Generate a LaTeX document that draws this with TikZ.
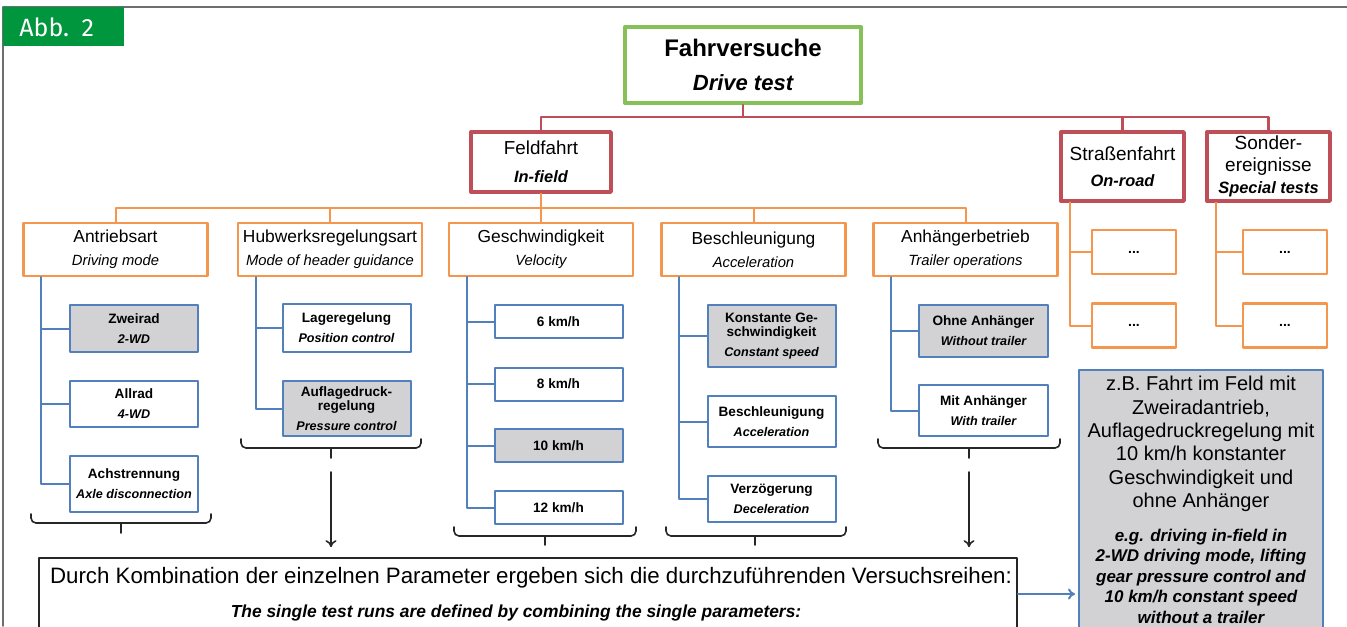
\documentclass[tikz,border=0pt]{standalone}
\usepackage{fontspec}
\setmainfont{Liberation Sans}
\newfontfamily\tagfont{Fira Sans}
\usetikzlibrary{positioning,arrows.meta}
\definecolor{tagGreen}{RGB}{0,150,62}
\definecolor{topGreen}{RGB}{134,192,88}
\definecolor{fieldRed}{RGB}{190,78,88}
\definecolor{catOrange}{RGB}{245,150,78}
\definecolor{optBlue}{RGB}{82,128,188}
\definecolor{optGray}{RGB}{210,210,212}
\definecolor{frameGray}{RGB}{110,110,110}
\newcommand\catsub{\fontsize{7.4}{11.5}\selectfont\itshape}
\newcommand\optsub{\fontsize{6.3}{7.2}\selectfont\bfseries\itshape}
\newcommand\fieldsub{\fontsize{8.2}{13}\selectfont\bfseries\itshape}
\begin{document}
\begin{tikzpicture}[line cap=round,line join=round,>={To[length=3.5pt,width=5.5pt]},x=0.5pt,y=-0.5pt,
	drivebox/.style={draw=topGreen,line width=2pt,minimum width=118pt,minimum height=38pt,align=center,inner sep=0pt,font=\fontsize{11}{17}\selectfont},
	fieldbox/.style={draw=fieldRed,line width=1.7pt,align=center,inner sep=0pt},
	catbox/.style={draw=catOrange,line width=1.3pt,minimum width=92pt,minimum height=26.5pt,align=center,inner sep=0pt,font=\fontsize{8.7}{11.5}\selectfont},
	optbox/.style={draw=optBlue,line width=1pt,minimum width=64pt,align=center,inner sep=0pt,font=\fontsize{6.8}{7.2}\selectfont\bfseries},
	selbox/.style={optbox,fill=optGray},
	dotbox/.style={draw=catOrange,line width=1.3pt,minimum width=42pt,minimum height=22pt,inner sep=0pt,font=\fontsize{7}{8}\selectfont\bfseries},
	redlink/.style={draw=fieldRed,line width=1.1pt},
	orangelink/.style={draw=catOrange,line width=1pt},
	bluelink/.style={draw=optBlue,line width=1pt},
	bracket/.style={draw=black!85,line width=0.8pt,rounded corners=2.5pt},
	arrowlink/.style={draw=black!85,line width=0.8pt,->,shorten >=5pt}]
	\useasboundingbox (0,0) rectangle (1347,626);
	\clip (0,0) rectangle (1347,626);
	% frame and tag
	\draw[frameGray,line width=0.8pt] (3,626) -- (3,7) -- (1347,7);
	\node[fill=tagGreen,text=white,anchor=north west,inner xsep=8pt,inner ysep=0pt,text width=44.5pt,minimum height=19.5pt,align=left,font=\tagfont\fontsize{12.5}{14}\selectfont] (abb) at (3,7) {Abb. 2};
	% top levels
	\node[drivebox] (drive) at (743,65) {{\fontsize{12}{17}\selectfont\bfseries Fahrversuche}\\{\bfseries\itshape Drive test}};
	\node[fieldbox,minimum width=70pt,minimum height=30pt,font=\fontsize{9.4}{14}\selectfont] (feld) at (541,162) {Feldfahrt\\{\fieldsub In-field}};
	\node[fieldbox,minimum width=61.5pt,minimum height=34.5pt,font=\fontsize{9.5}{13}\selectfont] (strasse) at (1122.5,166.5) {Straßenfahrt\\{\fieldsub On-road}};
	\node[fieldbox,minimum width=61.5pt,minimum height=34.5pt,font=\fontsize{9.5}{11}\selectfont] (sonder) at (1268.5,166.5) {Sonder-\\ereignisse\\{\fieldsub Special tests}};
	\coordinate (rbus) at (743,117);
	\draw[redlink] (drive.south) -- (rbus);
	\draw[redlink] (feld.north) |- (rbus) -| (sonder.north);
	\draw[redlink] (strasse.north) -- (strasse.north |- rbus);
	% parameters
	\node[catbox] (antrieb) at (115.5,249.5) {Antriebsart\\{\catsub Driving mode}};
	\node[catbox] (hubwerk) at (330,249.5) {Hubwerksregelungsart\\{\catsub Mode of header guidance}};
	\node[catbox] (geschw) at (541,249.5) {Geschwindigkeit\\{\catsub Velocity}};
	\node[catbox] (beschl) at (753.5,249.5) {Beschleunigung\\{\catsub Acceleration}};
	\node[catbox] (anhang) at (965.5,249.5) {Anhängerbetrieb\\{\catsub Trailer operations}};
	\coordinate (obus) at (541,208);
	\draw[orangelink] (feld.south) -- (geschw.north);
	\draw[orangelink] (antrieb.north) |- (obus) -| (anhang.north);
	\draw[orangelink] (hubwerk.north) -- (hubwerk.north |- obus);
	\draw[orangelink] (beschl.north) -- (beschl.north |- obus);
	\node[dotbox] (sdots1) at (1134,252) {...};
	\node[dotbox] (sdots2) at (1134,325.5) {...};
	\node[dotbox] (odots1) at (1285,252) {...};
	\node[dotbox] (odots2) at (1285,325.5) {...};
	\draw[orangelink] ([xshift=5.5pt]strasse.south west) |- (sdots1.west);
	\draw[orangelink] ([xshift=5.5pt]strasse.south west) |- (sdots2.west);
	\draw[orangelink] ([xshift=5.5pt]sonder.south west) |- (odots1.west);
	\draw[orangelink] ([xshift=5.5pt]sonder.south west) |- (odots2.west);
	% options
	\node[selbox,minimum height=23.5pt] (zweirad) at (134,328.5) {Zweirad\\[2.8pt]{\optsub 2-WD}};
	\node[optbox,minimum height=23pt] (allrad) at (134,404) {Allrad\\[2.8pt]{\optsub 4-WD}};
	\node[optbox,minimum height=28pt] (achs) at (134,484) {Achstrennung\\[2.8pt]{\optsub Axle disconnection}};
	\node[optbox,minimum height=24pt] (lage) at (346.5,328) {Lageregelung\\[2.8pt]{\optsub Position control}};
	\node[selbox,minimum height=27.5pt] (auflage) at (346.5,408.5) {Auflagedruck-\\regelung\\[2.8pt]{\optsub Pressure control}};
	\node[optbox,minimum height=16.5pt] (kmh6) at (558.5,321.5) {6 km/h};
	\node[optbox,minimum height=16.5pt] (kmh8) at (558.5,384) {8 km/h};
	\node[selbox,minimum height=16.5pt] (kmh10) at (558.5,445.5) {10 km/h};
	\node[optbox,minimum height=16.5pt] (kmh12) at (558.5,507.5) {12 km/h};
	\node[selbox,minimum height=31pt] (konst) at (771.5,336) {Konstante Ge-\\schwindigkeit\\[2.8pt]{\optsub Constant speed}};
	\node[optbox,minimum height=25.5pt] (accel) at (771.5,421.5) {Beschleunigung\\[2.8pt]{\optsub Acceleration}};
	\node[optbox,minimum height=23pt] (verz) at (771.5,499) {Verzögerung\\[2.8pt]{\optsub Deceleration}};
	\node[selbox,minimum width=64.5pt,minimum height=26pt] (ohne) at (983.5,331) {Ohne Anhänger\\[2.8pt]{\optsub Without trailer}};
	\node[optbox,minimum width=64.5pt,minimum height=25.5pt] (mit) at (983.5,410.5) {Mit Anhänger\\[2.8pt]{\optsub With trailer}};
	\draw[bluelink] ([xshift=9.5pt]antrieb.south west) |- (zweirad.west);
	\draw[bluelink] ([xshift=9.5pt]antrieb.south west) |- (allrad.west);
	\draw[bluelink] ([xshift=9.5pt]antrieb.south west) |- (achs.west);
	\draw[bluelink] ([xshift=9.5pt]hubwerk.south west) |- (lage.west);
	\draw[bluelink] ([xshift=9.5pt]hubwerk.south west) |- (auflage.west);
	\draw[bluelink] ([xshift=9.5pt]geschw.south west) |- (kmh6.west);
	\draw[bluelink] ([xshift=9.5pt]geschw.south west) |- (kmh8.west);
	\draw[bluelink] ([xshift=9.5pt]geschw.south west) |- (kmh10.west);
	\draw[bluelink] ([xshift=9.5pt]geschw.south west) |- (kmh12.west);
	\draw[bluelink] ([xshift=9.5pt]beschl.south west) |- (konst.west);
	\draw[bluelink] ([xshift=9.5pt]beschl.south west) |- (accel.west);
	\draw[bluelink] ([xshift=9.5pt]beschl.south west) |- (verz.west);
	\draw[bluelink] ([xshift=9.5pt]anhang.south west) |- (ohne.west);
	\draw[bluelink] ([xshift=9.5pt]anhang.south west) |- (mit.west);
	% brackets
	\draw[bracket] (31,514) |- (211,523) -- (211,514);
	\draw[bracket] (121,523) -- (121,533);
	\draw[bracket] (241,439) |- (421,448) -- (421,439);
	\coordinate (hubtip) at (331,458);
	\draw[bracket] (331,448) -- (hubtip);
	\draw[bracket] (454,527) |- (636,536) -- (636,527);
	\draw[bracket] (545,536) -- (545,545);
	\draw[bracket] (666,527) |- (846,536) -- (846,527);
	\draw[bracket] (755,536) -- (755,545);
	\draw[bracket] (878,439) |- (1060,448) -- (1060,439);
	\coordinate (anhtip) at (969,458);
	\draw[bracket] (969,448) -- (anhtip);
	% combination
	\node[draw=black!85,line width=0.9pt,minimum width=489pt,minimum height=36pt,inner sep=0pt] (combo) at (528,594) {};
	\node[font=\fontsize{11.15}{13}\selectfont] (combode) at (531,578) {Durch Kombination der einzelnen Parameter ergeben sich die durchzuführenden Versuchsreihen:};
	\node[font=\fontsize{8.7}{11}\selectfont\bfseries\itshape] (comboen) at (516,613) {The single test runs are defined by combining the single parameters:};
	\draw[arrowlink] ([yshift=-7pt]hubtip) -- (hubtip |- combo.north);
	\draw[arrowlink] ([yshift=-7pt]anhtip) -- (anhtip |- combo.north);
	% example
	\node[draw=optBlue,fill=optGray,line width=1pt,minimum width=122pt,minimum height=224pt,inner sep=0pt] (example) at (1201,594) {};
	\node[font=\fontsize{10}{11.65}\selectfont,align=center] (exde) at (1201,444) {z.B. Fahrt im Feld mit\\Zweiradantrieb,\\Auflagedruckregelung mit\\10 km/h konstanter\\Geschwindigkeit und\\ohne Anhänger};
	\node[font=\fontsize{8.5}{10.25}\selectfont\bfseries\itshape,align=center] (exen) at (1201,576) {e.g. driving in-field in\\2-WD driving mode, lifting\\gear pressure control and\\10 km/h constant speed\\without a trailer};
	\draw[bluelink,->,shorten >=1.5pt] (combo.east) -- (example.west);
\end{tikzpicture}
\end{document}
